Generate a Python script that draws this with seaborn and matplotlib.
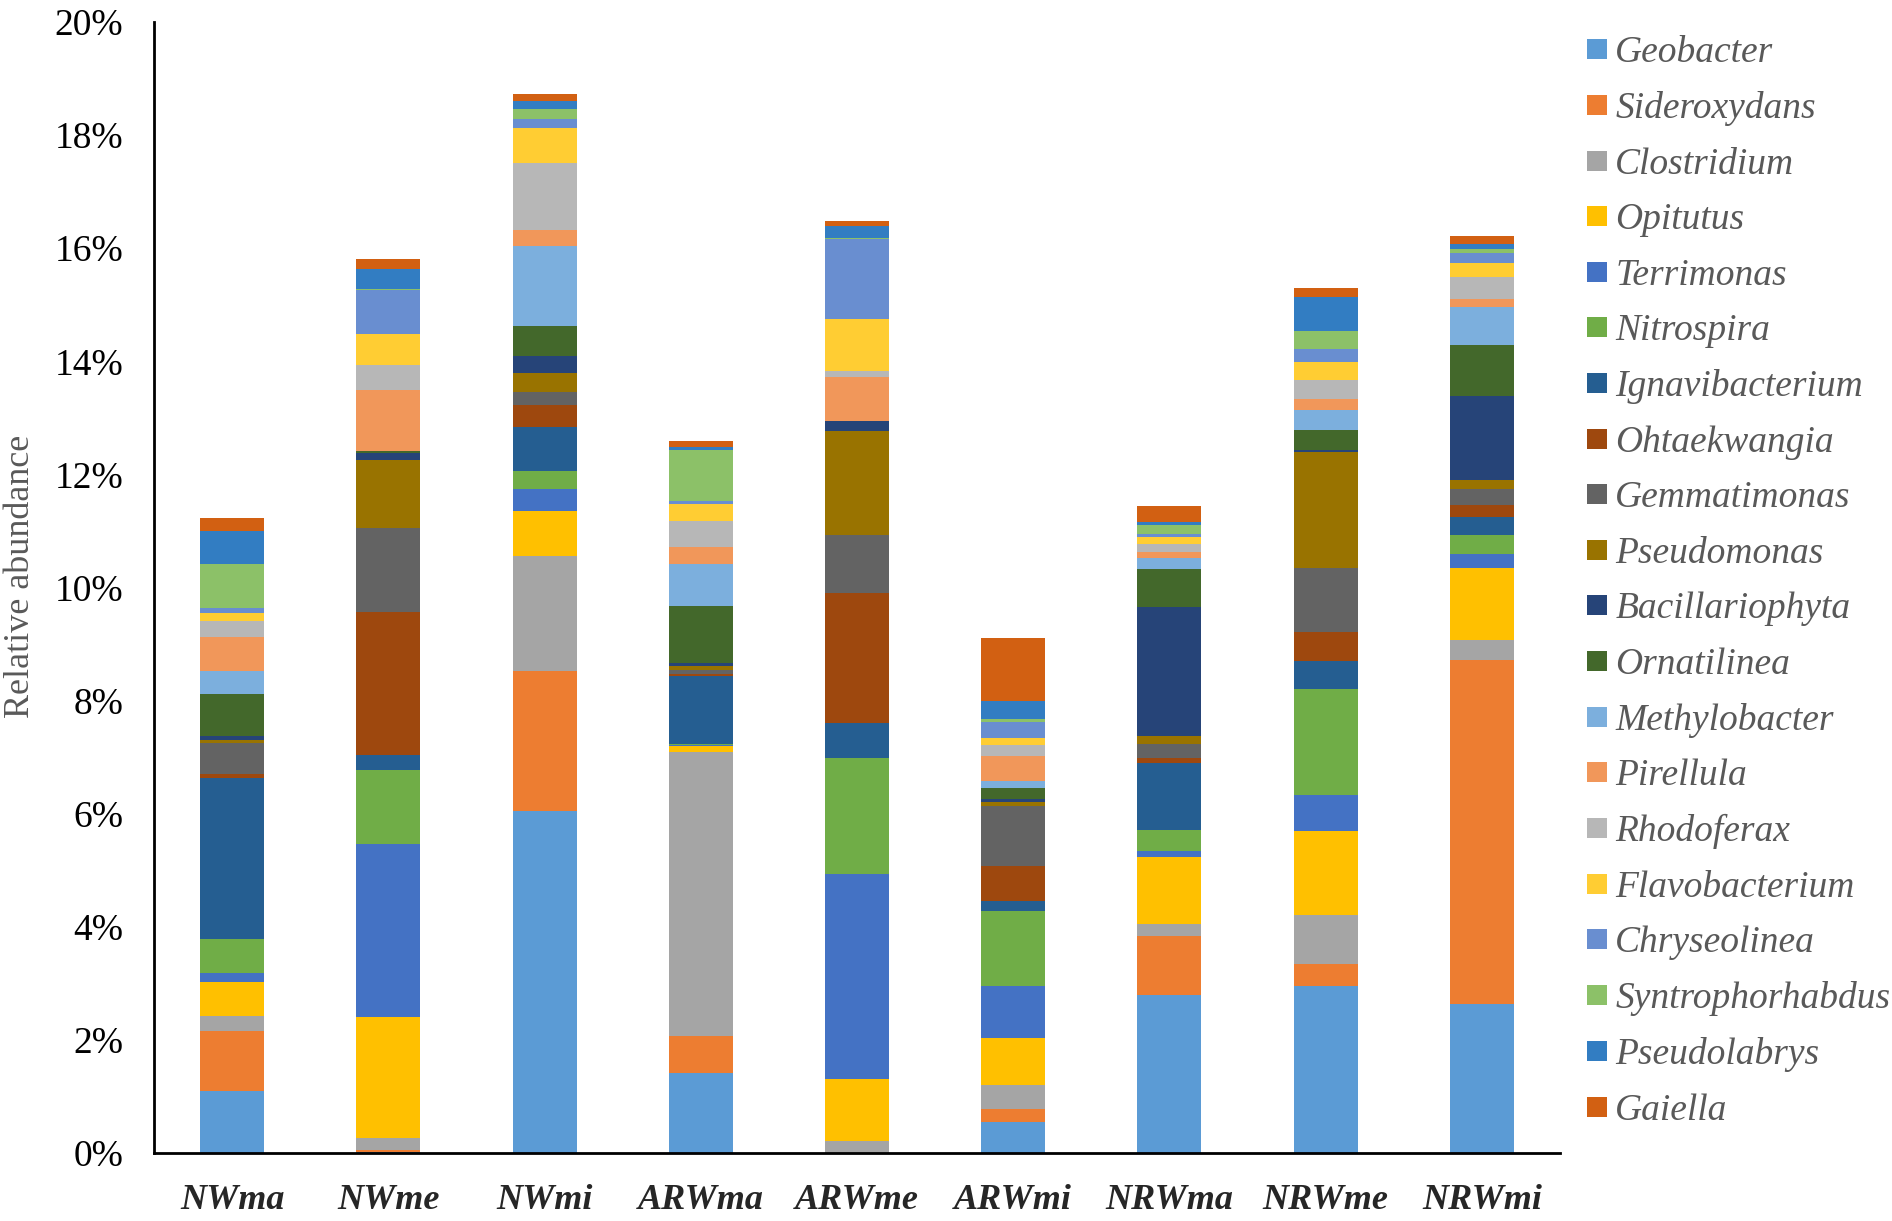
import numpy as np
import pandas as pd
import seaborn as sns
from matplotlib import pyplot as plt
from matplotlib.lines import Line2D
from matplotlib.ticker import FuncFormatter

samples = ['NWma', 'NWme', 'NWmi', 'ARWma', 'ARWme', 'ARWmi', 'NRWma', 'NRWme', 'NRWmi']

# relative abundance (%) per genus, bottom of the stack first
geobacter = [1.10, 0.02, 6.05, 1.41, 0.00, 0.55, 2.79, 2.96, 2.64]
sideroxydans = [1.05, 0.03, 2.48, 0.66, 0.00, 0.23, 1.05, 0.39, 6.08]
clostridium = [0.28, 0.22, 2.03, 5.02, 0.22, 0.43, 0.21, 0.86, 0.35]
opitutus = [0.59, 2.13, 0.80, 0.10, 1.08, 0.82, 1.19, 1.49, 1.28]
terrimonas = [0.17, 3.06, 0.39, 0.02, 3.64, 0.93, 0.10, 0.63, 0.24]
nitrospira = [0.59, 1.32, 0.31, 0.03, 2.05, 1.32, 0.38, 1.88, 0.33]
ignavibacterium = [2.85, 0.25, 0.77, 1.20, 0.61, 0.17, 1.18, 0.49, 0.33]
ohtaekwangia = [0.07, 2.53, 0.39, 0.03, 2.30, 0.62, 0.09, 0.52, 0.21]
gemmatimonas = [0.55, 1.50, 0.23, 0.07, 1.03, 1.07, 0.25, 1.12, 0.28]
pseudomonas = [0.05, 1.19, 0.35, 0.07, 1.84, 0.07, 0.14, 2.06, 0.16]
bacillariophyta = [0.07, 0.12, 0.29, 0.06, 0.18, 0.05, 2.27, 0.03, 1.49]
ornatilinea = [0.74, 0.05, 0.53, 1.01, 0.00, 0.19, 0.67, 0.36, 0.90]
methylobacter = [0.41, 0.00, 1.42, 0.74, 0.00, 0.12, 0.21, 0.34, 0.67]
pirellula = [0.61, 1.07, 0.28, 0.29, 0.78, 0.45, 0.09, 0.20, 0.14]
rhodoferax = [0.27, 0.44, 1.19, 0.47, 0.09, 0.20, 0.15, 0.34, 0.39]
flavobacterium = [0.14, 0.55, 0.62, 0.30, 0.93, 0.11, 0.13, 0.31, 0.24]
chryseolinea = [0.10, 0.78, 0.16, 0.05, 1.41, 0.29, 0.04, 0.24, 0.18]
syntrophorhabdus = [0.77, 0.02, 0.17, 0.91, 0.02, 0.05, 0.17, 0.32, 0.08]
pseudolabrys = [0.58, 0.35, 0.15, 0.05, 0.21, 0.33, 0.04, 0.60, 0.08]
gaiella = [0.23, 0.17, 0.11, 0.10, 0.09, 1.11, 0.29, 0.16, 0.15]

genera = ['Geobacter', 'Sideroxydans', 'Clostridium', 'Opitutus', 'Terrimonas',
          'Nitrospira', 'Ignavibacterium', 'Ohtaekwangia', 'Gemmatimonas',
          'Pseudomonas', 'Bacillariophyta', 'Ornatilinea', 'Methylobacter',
          'Pirellula', 'Rhodoferax', 'Flavobacterium', 'Chryseolinea',
          'Syntrophorhabdus', 'Pseudolabrys', 'Gaiella']
values = [geobacter, sideroxydans, clostridium, opitutus, terrimonas, nitrospira,
          ignavibacterium, ohtaekwangia, gemmatimonas, pseudomonas, bacillariophyta,
          ornatilinea, methylobacter, pirellula, rhodoferax, flavobacterium,
          chryseolinea, syntrophorhabdus, pseudolabrys, gaiella]

colors = ['#5B9BD5', '#ED7D31', '#A5A5A5', '#FFC000', '#4472C4', '#70AD47',
          '#255E91', '#9E480E', '#636363', '#997300', '#264478', '#43682B',
          '#7CAFDD', '#F1975A', '#B7B7B7', '#FFCD33', '#698ED0', '#8CC168',
          '#327DC2', '#D26012']

df = pd.DataFrame(np.array(values).T, columns=genera)
df['sample'] = samples
cum = df[genera].cumsum(axis=1)
cum['sample'] = samples

sns.set_style('white')
plt.rcParams['font.family'] = ['Liberation Serif', 'DejaVu Serif']

fig = plt.figure(figsize=(18.92, 12.21), dpi=100)
ax = fig.add_axes([0.0814, 0.0557, 0.7431, 0.9263])

# stacked bars: draw cumulative totals from the top genus down
for g, c in zip(genera[::-1], colors[::-1]):
    sns.barplot(data=cum, x='sample', y=g, order=samples, color=c, saturation=1,
                width=0.41, errorbar=None, linewidth=0, ax=ax)

ax.set_xlim(-0.5, len(samples) - 0.5)
ax.set_ylim(0, 20)
ax.set_yticks(np.arange(0, 21, 2))
ax.yaxis.set_major_formatter(FuncFormatter(lambda v, p: f'{v:.0f}%'))
ax.tick_params(axis='y', length=0, pad=22, labelsize=27, labelcolor='black')
ax.tick_params(axis='x', length=0, pad=22, labelsize=26)
for lab in ax.get_xticklabels():
    lab.set_fontstyle('italic')
    lab.set_fontweight('bold')

ax.set_xlabel('')
ax.set_ylabel('Relative abundance', fontsize=26, color='#595959')
ax.yaxis.set_label_coords(-0.083, 0.51)

sns.despine(ax=ax)
for s in ['left', 'bottom']:
    ax.spines[s].set_linewidth(2)
    ax.spines[s].set_color('black')

handles = [Line2D([0], [0], marker='s', linestyle='', markersize=15,
                  markerfacecolor=c, markeredgewidth=0) for c in colors]
leg = ax.legend(handles, genera, loc='upper left', bbox_to_anchor=(0.830, 0.983),
                bbox_transform=fig.transFigure, frameon=False, fontsize=27,
                handlelength=0.6, handletextpad=0.2, labelspacing=0.56,
                borderaxespad=0)
for t in leg.get_texts():
    t.set_fontstyle('italic')
    t.set_color('#595959')

fig.savefig('out.png', dpi=100)
